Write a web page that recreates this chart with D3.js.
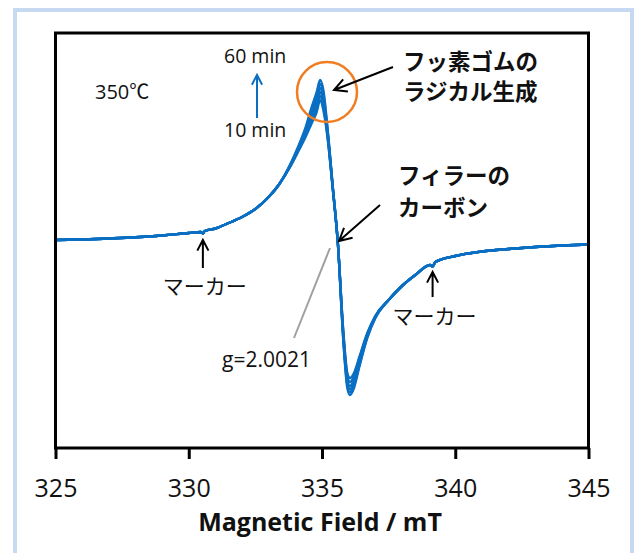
<!DOCTYPE html>
<html>
<head>
<meta charset="utf-8">
<script src="https://cdn.jsdelivr.net/npm/d3@7"></script>
<style>
    body { margin: 0; background: #fff; }
    svg { display: block; }
    text { font-family: "Open Sans", "Noto Sans CJK JP", sans-serif; fill: #111; }
    .jp { font-family: "Noto Sans CJK JP", sans-serif; }
</style>
</head>
<body>
<div id="graph-placeholder"></div>
<script>
// magnetic field (mT) sampled along the spectrum
var fieldValues = [325, 326, 327, 328, 329, 330, 330.45, 330.53, 330.6, 331, 331.5, 332, 332.5, 333, 333.4,
    333.8, 334.1, 334.4, 334.6, 334.8, 334.93, 335.05, 335.2, 335.4, 335.6, 335.8, 335.95, 336.05, 336.2,
    336.4, 336.7, 337, 337.5, 338, 338.5, 339.05, 339.15, 339.25, 340, 341, 342, 343, 344, 345];

// EPR intensity (arb. units), one series per heating time
var signal10 = [0, 0.5, 1.5, 2.7, 4.5, 7, 8, 6.5, 9, 11.5, 17, 23, 31, 43, 56,
    73, 88, 104, 116, 128, 140, 130, 104, 52, -5, -91, -133, -138, -133,
    -117, -93, -76, -60, -46, -35, -25, -26.5, -22, -16, -11.5, -9, -7, -5.5, -4.5];
var signal20 = [0, 0.5, 1.5, 2.7, 4.5, 7, 8, 6.5, 9, 11.5, 17, 23, 31, 43, 56,
    73, 89, 106, 119, 132, 144, 134, 106, 53, -5, -93, -136, -142, -136,
    -119, -94, -76, -60, -46, -35, -25, -26.5, -22, -16, -11.5, -9, -7, -5.5, -4.5];
var signal30 = [0, 0.5, 1.5, 2.7, 4.5, 7, 8, 6.5, 9, 11.5, 17, 23, 31, 43, 56,
    74, 90, 108, 122, 136, 148, 138, 108, 53, -5, -95, -139, -146, -139,
    -121, -95, -77, -60, -46, -35, -25, -26.5, -22, -16, -11.5, -9, -7, -5.5, -4.5];
var signal40 = [0, 0.5, 1.5, 2.7, 4.5, 7, 8, 6.5, 9, 11.5, 17, 23, 31, 43, 56,
    74, 91, 110, 125, 140, 152, 142, 110, 54, -5, -97, -142, -149, -142,
    -123, -96, -77, -60, -46, -35, -25, -26.5, -22, -16, -11.5, -9, -7, -5.5, -4.5];
var signal50 = [0, 0.5, 1.5, 2.7, 4.5, 7, 8, 6.5, 9, 11.5, 17, 23, 31, 43, 56,
    75, 92, 112, 128, 144, 156, 146, 112, 54, -5, -99, -145, -152, -145,
    -125, -97, -78, -60, -46, -35, -25, -26.5, -22, -16, -11.5, -9, -7, -5.5, -4.5];
var signal60 = [0, 0.5, 1.5, 2.7, 4.5, 7, 8, 6.5, 9, 11.5, 17, 23, 31, 43, 56,
    75, 93, 114, 132, 148, 160, 150, 114, 55, -5, -101, -148, -155, -148,
    -127, -98, -78, -60, -46, -35, -25, -26.5, -22, -16, -11.5, -9, -7, -5.5, -4.5];

var allSignals = [signal10, signal20, signal30, signal40, signal50, signal60];
var xTicks = [325, 330, 335, 340, 345];
var markerFields = [330.53, 339.15];

var width = 636,
    height = 553,
    plot = {left: 55.5, right: 588.5, top: 33, bottom: 448},
    blue = '#0a6fc2';

var svg = d3.select('#graph-placeholder')
    .append('svg')
    .attr('width', width)
    .attr('height', height);

// light blue outer frame (runs off the bottom)
svg.append('rect')
    .attr('x', 15).attr('y', 10)
    .attr('width', 617).attr('height', 600)
    .attr('fill', 'none')
    .attr('stroke', '#c6d9f0')
    .attr('stroke-width', 4);

var xScale = d3.scaleLinear()
    .domain([325, 345])
    .range([plot.left, plot.right]);

var yScale = d3.scaleLinear()
    .domain([-208, 207])
    .range([plot.bottom, plot.top]);

var line = d3.line()
    .x(function (d) { return xScale(d[0]); })
    .y(function (d) { return yScale(d[1]); })
    .curve(d3.curveMonotoneX);

svg.append('g')
    .selectAll('path')
    .data(allSignals)
    .enter()
    .append('path')
    .attr('fill', 'none')
    .attr('stroke', blue)
    .attr('stroke-width', 2.4)
    .attr('stroke-linejoin', 'round')
    .attr('d', function (s) {
        return line(fieldValues.map(function (f, i) { return [f, s[i]]; }));
    });

// plot box
svg.append('rect')
    .attr('x', plot.left).attr('y', plot.top)
    .attr('width', plot.right - plot.left)
    .attr('height', plot.bottom - plot.top)
    .attr('fill', 'none')
    .attr('stroke', '#000')
    .attr('stroke-width', 3);

var xAxis = svg.append('g')
    .attr('transform', 'translate(0,' + plot.bottom + ')')
    .call(d3.axisBottom(xScale).tickValues(xTicks).tickSize(11).tickSizeOuter(0).tickPadding(20));
xAxis.select('.domain').remove();
xAxis.selectAll('.tick line').attr('stroke', '#000').attr('stroke-width', 3);
xAxis.selectAll('.tick text')
    .style('font-family', '"Open Sans", sans-serif')
    .style('font-size', '25px')
    .attr('fill', '#111');

svg.append('text')
    .attr('x', 320).attr('y', 531)
    .attr('text-anchor', 'middle')
    .style('font-size', '25px')
    .style('font-weight', 'bold')
    .text('Magnetic Field / mT');

function arrow(x1, y1, x2, y2, color, w, head) {
    var a = Math.atan2(y2 - y1, x2 - x1),
        spread = Math.PI / 6.5,
        p = d3.path();
    p.moveTo(x1, y1);
    p.lineTo(x2, y2);
    p.moveTo(x2 - head * Math.cos(a - spread), y2 - head * Math.sin(a - spread));
    p.lineTo(x2, y2);
    p.lineTo(x2 - head * Math.cos(a + spread), y2 - head * Math.sin(a + spread));
    svg.append('path')
        .attr('d', p.toString())
        .attr('fill', 'none')
        .attr('stroke', color)
        .attr('stroke-width', w);
}

// time labels
svg.append('text').attr('x', 224).attr('y', 63).style('font-size', '19.5px').text('60 min');
svg.append('text').attr('x', 224).attr('y', 137).style('font-size', '19.5px').text('10 min');
arrow(257, 118, 257, 75, blue, 2, 11);

svg.append('text').attr('x', 95).attr('y', 99).style('font-size', '20px').text('350℃');

// radical circle + label
svg.append('circle')
    .attr('cx', 327).attr('cy', 92).attr('r', 30)
    .attr('fill', 'none')
    .attr('stroke', '#f07d22')
    .attr('stroke-width', 2.5);
arrow(393, 67, 334, 90, '#000', 2, 14);
svg.append('text').attr('class', 'jp').attr('x', 403).attr('y', 70)
    .style('font-size', '22.5px').style('font-weight', 'bold').text('フッ素ゴムの');
svg.append('text').attr('class', 'jp').attr('x', 403).attr('y', 100)
    .style('font-size', '22.5px').style('font-weight', 'bold').text('ラジカル生成');

// filler carbon
arrow(380, 205, 339, 241, '#000', 2, 14);
svg.append('text').attr('class', 'jp').attr('x', 398).attr('y', 184)
    .style('font-size', '22.5px').style('font-weight', 'bold').text('フィラーの');
svg.append('text').attr('class', 'jp').attr('x', 398).attr('y', 216)
    .style('font-size', '22.5px').style('font-weight', 'bold').text('カーボン');

// g value
svg.append('line')
    .attr('x1', 330).attr('y1', 248).attr('x2', 294).attr('y2', 338)
    .attr('stroke', '#a0a0a0').attr('stroke-width', 2);
svg.append('text').attr('x', 311).attr('y', 367)
    .attr('text-anchor', 'end').style('font-size', '21px').text('g=2.0021');

// field markers
var markerText = [{y: 294, top: 240, bottom: 268}, {y: 324, top: 272, bottom: 297}];
markerFields.forEach(function (f, i) {
    var mx = xScale(f);
    arrow(mx, markerText[i].bottom, mx, markerText[i].top, '#000', 2, 12);
    svg.append('text').attr('class', 'jp')
        .attr('x', mx + 2).attr('y', markerText[i].y)
        .attr('text-anchor', 'middle')
        .style('font-size', '21px')
        .text('マーカー');
});
</script>
</body>
</html>
